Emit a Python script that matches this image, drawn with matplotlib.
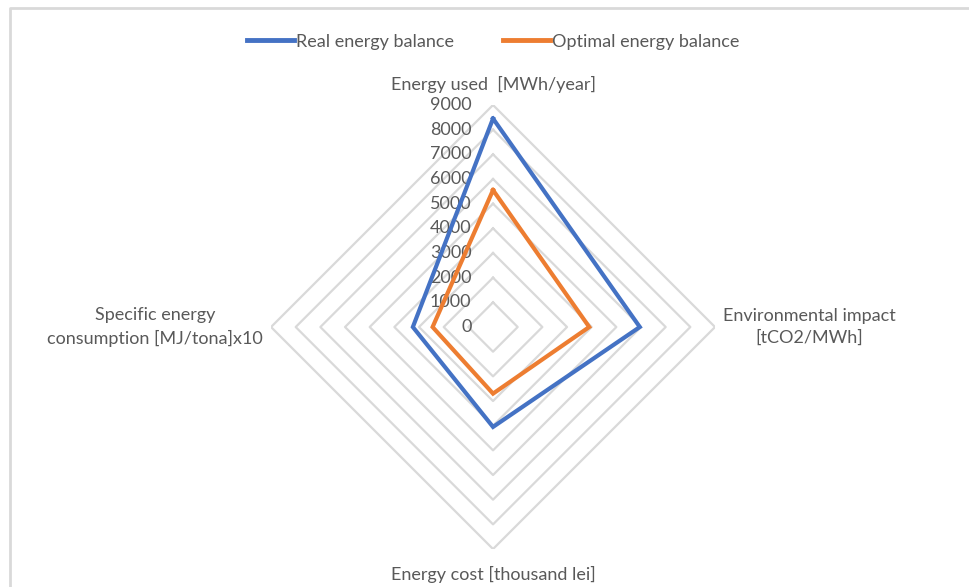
import numpy as np
import matplotlib
matplotlib.use("Agg")
import matplotlib.pyplot as plt
from matplotlib.lines import Line2D

plt.rcParams['font.family'] = ['Lato', 'DejaVu Sans']

# axes of the radar, clockwise from the top
categories = ["Energy used  [MWh/year]",
              "Environmental impact\n[tCO2/MWh]",
              "Energy cost [thousand lei]",
              "Specific energy\nconsumption [MJ/tona]x10"]
real_balance = [8450, 5950, 4050, 3250]
optimal_balance = [5550, 3900, 2700, 2450]
ring_values = [0, 1000, 2000, 3000, 4000, 5000, 6000, 7000, 8000, 9000]

TEXT = '#595959'
GRID = '#D9D9D9'
BLUE = '#4472C4'
ORANGE = '#ED7D31'
FS = 13

fig = plt.figure(figsize=(9.69, 5.87), dpi=100)
ax = fig.add_axes([0.2797, 0.0647, 0.4582, 0.7564], projection='polar')
ax.set_theta_zero_location('N')
ax.set_theta_direction(-1)
ax.set_rlim(0, 9000)
ax.grid(False)
ax.spines['polar'].set_visible(False)
ax.set_xticks([])
ax.set_yticks([])
ax.patch.set_alpha(0)

angles = np.linspace(0, 2 * np.pi, len(categories), endpoint=False)
closed = np.append(angles, angles[0])

# diamond-shaped gridlines
for v in ring_values[1:]:
    ax.plot(closed, [v] * len(closed), color=GRID, lw=1.6, zorder=1)

def close(vals):
    return list(vals) + [vals[0]]

ax.plot(closed, close(real_balance), color=BLUE, lw=3.0, zorder=3,
        solid_joinstyle='miter', label='Real energy balance')
ax.plot(closed, close(optimal_balance), color=ORANGE, lw=3.0, zorder=3,
        solid_joinstyle='miter', label='Optimal energy balance')

# value labels along the top axis
for v in ring_values:
    ax.annotate(str(v), xy=(0, v), xytext=(-15.5, 0), textcoords='offset points',
                ha='right', va='center', color=TEXT, fontsize=FS, zorder=2)

# category labels
offsets = [((0, 9), 'center', 'bottom'),
           ((6, 0), 'left', 'center'),
           ((0, -12), 'center', 'top'),
           ((-6, 0), 'right', 'center')]
for ang, lab, (off, ha, va) in zip(angles, categories, offsets):
    ax.annotate(lab, xy=(ang, 9000), xytext=off, textcoords='offset points',
                ha=ha, va=va, multialignment='center', color=TEXT,
                fontsize=FS, linespacing=1.45, annotation_clip=False)

leg = fig.legend(loc='center', bbox_to_anchor=(0.509, 0.929), ncol=2,
                 frameon=False, fontsize=FS, handlelength=2.6,
                 handletextpad=0.1, columnspacing=2.7)
for t in leg.get_texts():
    t.set_color(TEXT)
for h in leg.legend_handles:
    h.set_linewidth(3.5)

# chart area border
fig.add_artist(Line2D([10 / 969, 10 / 969, 1], [0, 1 - 8 / 587, 1 - 8 / 587],
                      transform=fig.transFigure, color=GRID, lw=2))

fig.savefig('out.png', dpi=100)
